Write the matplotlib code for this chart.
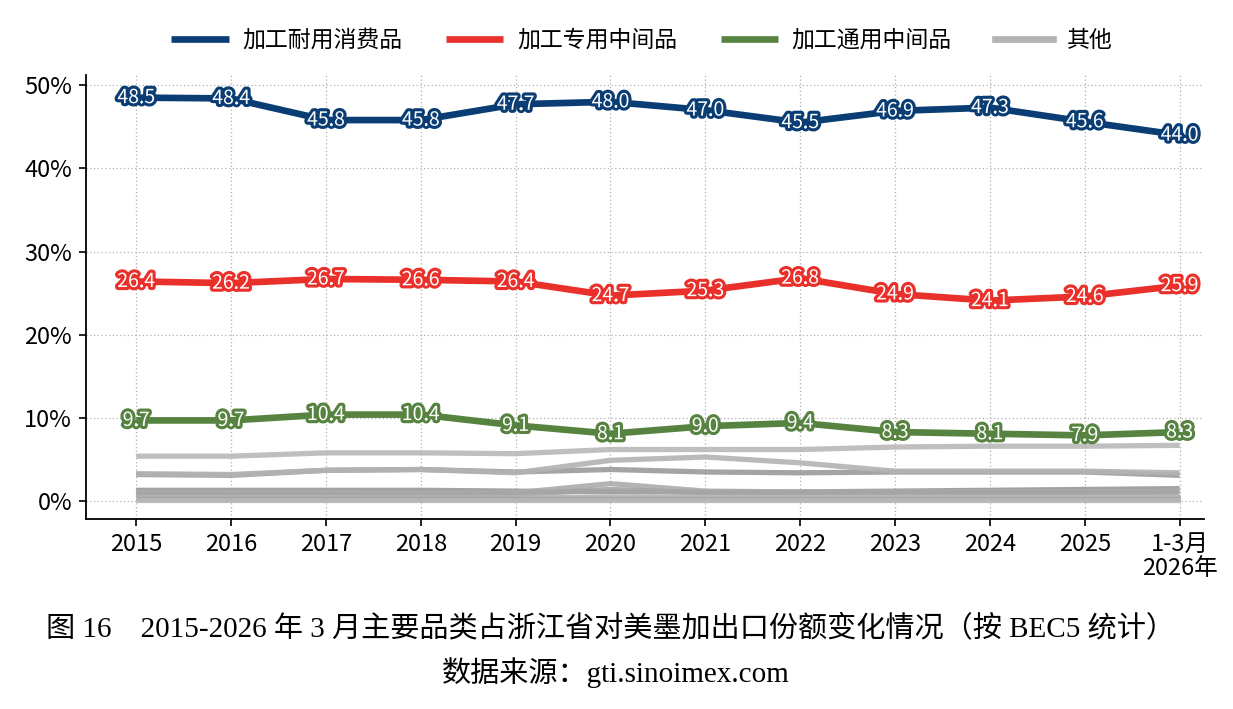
import matplotlib
matplotlib.use("Agg")
import matplotlib.pyplot as plt
import matplotlib.patheffects as pe
import numpy as np

plt.rcParams["font.family"] = ["Noto Sans CJK SC", "DejaVu Sans"]

YEARS = ["2015", "2016", "2017", "2018", "2019", "2020", "2021", "2022",
         "2023", "2024", "2025", "1-3月\n2026年"]

DURABLE = [48.5, 48.4, 45.8, 45.8, 47.7, 48.0, 47.0, 45.5, 46.9, 47.3, 45.6, 44.0]
SPECIAL = [26.4, 26.2, 26.7, 26.6, 26.4, 24.7, 25.3, 26.8, 24.9, 24.1, 24.6, 25.9]
GENERAL = [9.7, 9.7, 10.4, 10.4, 9.1, 8.1, 9.0, 9.4, 8.3, 8.1, 7.9, 8.3]

# other categories (unlabelled grey lines)
OTHERS = [
    [5.4, 5.4, 5.8, 5.8, 5.7, 6.2, 6.2, 6.2, 6.5, 6.6, 6.6, 6.7],
    [3.2, 3.1, 3.7, 3.8, 3.5, 3.8, 3.5, 3.4, 3.5, 3.5, 3.5, 3.1],
    [3.3, 3.2, 3.7, 3.8, 3.4, 4.9, 5.3, 4.6, 3.6, 3.6, 3.6, 3.4],
    [1.3, 1.3, 1.3, 1.3, 1.2, 1.1, 1.1, 1.1, 1.2, 1.3, 1.4, 1.5],
    [1.0, 1.0, 1.0, 0.9, 1.0, 2.1, 1.2, 1.1, 1.1, 1.1, 1.1, 1.2],
    [0.8, 0.8, 0.8, 0.7, 0.8, 1.4, 1.0, 1.0, 1.0, 1.0, 1.0, 1.0],
    [0.5, 0.5, 0.5, 0.5, 0.5, 0.5, 0.5, 0.5, 0.5, 0.5, 0.5, 0.5],
    [0.3, 0.3, 0.3, 0.3, 0.3, 0.3, 0.3, 0.3, 0.3, 0.3, 0.3, 0.3],
    [0.1, 0.1, 0.1, 0.1, 0.1, 0.1, 0.1, 0.1, 0.1, 0.1, 0.1, 0.1],
]
OTHER_COLORS = ["#b8b8b8", "#9a9a9a", "#b3b3b3", "#999999", "#ababab",
                "#a5a5a5", "#b3b3b3", "#a0a0a0", "#b8b8b8"]

NAVY = "#0a3d73"
RED = "#e9302a"
GREEN = "#568340"
GREY = "#b3b3b3"

fig = plt.figure(figsize=(12.33, 7.09), dpi=100)
ax = fig.add_axes([0.0697, 0.268, 0.907, 0.626])
x = np.arange(len(YEARS))

for vals, c in zip(OTHERS, OTHER_COLORS):
    ax.plot(x, vals, color=c, lw=3.8, alpha=0.9, solid_capstyle="butt", zorder=2)

series = [("加工耐用消费品", DURABLE, NAVY),
          ("加工专用中间品", SPECIAL, RED),
          ("加工通用中间品", GENERAL, GREEN)]
for name, vals, c in series:
    ax.plot(x, vals, color=c, lw=4.8, solid_capstyle="butt", zorder=3, label=name)
    for xi, v in zip(x, vals):
        ax.text(xi, v, f"{v:.1f}", color="white", fontsize=14, ha="center",
                va="center", zorder=5,
                path_effects=[pe.withStroke(linewidth=4.5, foreground=c)])

ax.plot([], [], color=GREY, lw=4.8, label="其他")

ax.set_xlim(-0.53, 11.26)
ax.set_ylim(-2.15, 51.2)
ax.set_xticks(x)
ax.set_xticklabels(YEARS, fontsize=17, linespacing=1.05)
ax.set_yticks(np.arange(0, 51, 10))
ax.set_yticklabels([f"{v}%" for v in range(0, 51, 10)], fontsize=17)
ax.tick_params(direction="out", length=5, width=1.2, color="black", pad=5)

ax.grid(True, linestyle=(0, (1, 2)), color="#b0b0b0", lw=0.9)
ax.set_axisbelow(True)
for s in ("top", "right"):
    ax.spines[s].set_visible(False)
for s in ("left", "bottom"):
    ax.spines[s].set_linewidth(1.3)

ax.legend(loc="center", bbox_to_anchor=(0.497, 1.079), ncol=4, frameon=False,
          fontsize=16.5, handlelength=2.5, columnspacing=1.9, handletextpad=0.6)

cap_font = ["Liberation Serif", "Noto Sans CJK SC"]
fig.text(0.495, 0.114, "图 16　2015-2026 年 3 月主要品类占浙江省对美墨加出口份额变化情况（按 BEC5 统计）",
         ha="center", va="center", fontsize=21, family=cap_font)
fig.text(0.499, 0.052, "数据来源：gti.sinoimex.com", ha="center", va="center",
         fontsize=21, family=cap_font)

fig.savefig("out.png", dpi=100)
